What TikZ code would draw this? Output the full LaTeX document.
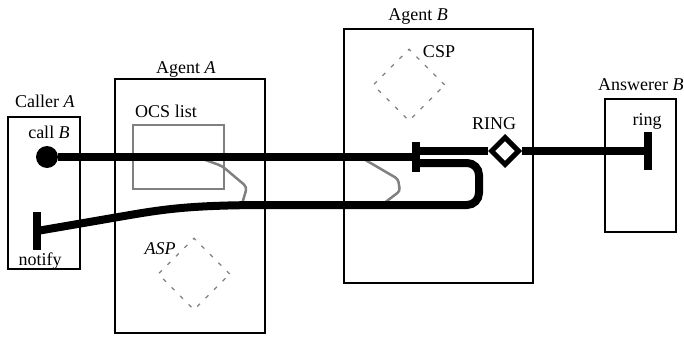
\documentclass[tikz,border=0pt]{standalone}
\usepackage{fontspec}
\setmainfont{Liberation Serif}
\usetikzlibrary{shapes.geometric,calc}

\begin{document}
\begin{tikzpicture}[x=1pt, y=-1pt, font=\fontsize{18}{21}\selectfont,
  box/.style={draw, line width=1.8pt, rectangle, inner sep=0pt},
  sig/.style={line width=8pt},
  bar/.style={fill, rectangle, inner sep=0pt, minimum width=8pt},
  sp/.style={draw=gray, diamond, inner sep=0pt, minimum width=72pt, minimum height=72pt,
    line width=1.3pt, dash pattern=on 4pt off 8pt},
  ocs/.style={draw=gray, line width=2.5pt},
  lbl/.style={anchor=base, inner sep=0pt}]
  \useasboundingbox (0,0) rectangle (684,337);
  % boxes
  \node[box, minimum width=72pt, minimum height=152pt] (caller) at (44,193) {};
  \node[box, minimum width=150pt, minimum height=254pt] (agentA) at (190,206) {};
  \node[box, minimum width=189pt, minimum height=254pt] (agentB) at (438.5,156) {};
  \node[box, minimum width=71pt, minimum height=133pt] (answerer) at (640.5,165.5) {};
  \node[lbl] (callerlbl) at (45,107) {Caller \textit{A}};
  \node[lbl] (agentAlbl) at (186,73) {Agent \textit{A}};
  \node[lbl] (agentBlbl) at (418,21) {Agent \textit{B}};
  \node[lbl, anchor=base west] (answererlbl) at (598,90) {Answerer \textit{B}};
  % texts in boxes
  \node[lbl] (callB) at (49,138) {call \textit{B}};
  \node[lbl] (notify) at (40,265) {notify};
  \node[lbl] (ocslbl) at (166,117) {OCS list};
  \node[lbl] (asplbl) at (160,254) {\textit{ASP}};
  \node[lbl] (csplbl) at (439,57) {CSP};
  \node[lbl] (ringlbl) at (494,129) {RING};
  \node[lbl] (ringtxt) at (647,125) {ring};
  % service processes
  \node[sp] (asp) at (194,274) {};
  \node[sp] (csp) at (409,85) {};
  \node[draw=gray, line width=2.5pt, rectangle, inner sep=0pt,
    minimum width=91pt, minimum height=64pt] (ocsbox) at (178.5,157) {};
  \draw[ocs, rounded corners=4pt] (200,158) -- (222,166) -- (247,187) -- (242,204);
  \draw[ocs, rounded corners=3pt] (362,158) -- (398,179) -- (400,191) -- (383,204);
  % ends
  \node[fill, circle, inner sep=0pt, minimum size=22pt] (dot) at (47,157) {};
  \node[bar, minimum height=38pt] (nbar) at (37,231) {};
  \node[bar, minimum height=30pt] (barB) at (416,157) {};
  \node[bar, minimum height=38pt] (rbar) at (648,151) {};
  \node[draw, fill=white, diamond, line width=5pt, inner sep=0pt,
    minimum width=29pt, minimum height=29pt] (ring) at (505,151) {};
  % signals
  \draw[sig] (dot) -- (barB);
  \draw[sig] ([yshift=6pt]barB.center) -- (ring.west);
  \draw[sig] (ring.east) -- (rbar.center);
  \draw[sig, rounded corners=12pt] ([yshift=-6pt]barB.center) -- (479,163) -- (479,205)
    -- (255,205) [rounded corners=0pt] .. controls (190,206) and (165,209) .. (130,215)
    -- (nbar.center);
\end{tikzpicture}
\end{document}
